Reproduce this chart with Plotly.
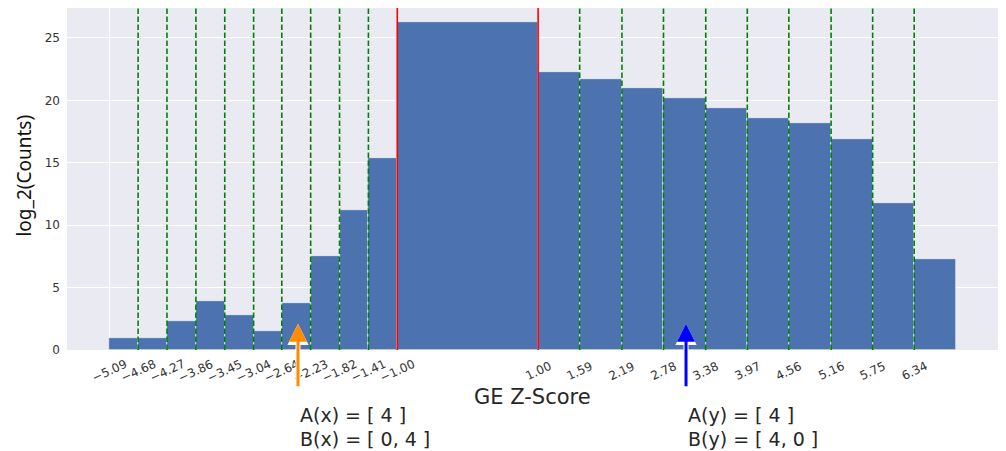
import plotly.graph_objects as go

# bin edges of the GE z-score histogram
left_edges = [-5.09, -4.68, -4.27, -3.86, -3.45, -3.04, -2.64, -2.23, -1.82, -1.41, -1.00]
right_edges = [1.00, 1.59, 2.19, 2.78, 3.38, 3.97, 4.56, 5.16, 5.75, 6.34, 6.93]
log2_counts = [1.0, 1.0, 2.3, 3.9, 2.8, 1.5, 3.8, 7.5, 11.2, 15.4,
               26.3,
               22.3, 21.7, 21.0, 20.2, 19.4, 18.6, 18.2, 16.9, 11.8, 7.3]
cutoffs = [-1.00, 1.00]
arrow_x = [-2.41, 3.10]
label_a = ['A(x) = [ 4 ]', 'A(y) = [ 4 ]']
label_b = ['B(x) = [ 0, 4 ]', 'B(y) = [ 4, 0 ]']
arrow_colors = ['#ff8c00', '#0000ff']

edges = left_edges + right_edges
centers = [(edges[i] + edges[i + 1]) / 2 for i in range(len(edges) - 1)]
widths = [edges[i + 1] - edges[i] for i in range(len(edges) - 1)]
tick_vals = edges[:-1]
tick_text = [f'{v:.2f}'.replace('-', '\u2212') for v in tick_vals]

fig = go.Figure()

fig.add_trace(go.Bar(
    x=centers,
    y=log2_counts,
    width=widths,
    marker_color='#4c72b0',
    marker_line=dict(color='white', width=0.6),
    showlegend=False
))

# dashed green boundaries, solid red cutoffs
for v in tick_vals:
    if v in cutoffs or v == edges[0]:
        continue
    fig.add_shape(type='line', x0=v, x1=v, y0=0, y1=1, xref='x', yref='paper',
                  line=dict(color='#008000', width=1.6, dash='5.5px,2.5px'), layer='above')
for v in cutoffs:
    fig.add_shape(type='line', x0=v, x1=v, y0=0, y1=1, xref='x', yref='paper',
                  line=dict(color='#ff0000', width=1.6), layer='above')

# x tick labels centred on their ticks (matplotlib style rotation)
for v, t in zip(tick_vals, tick_text):
    fig.add_annotation(x=v, y=-0.06, xref='x', yref='paper', text=t,
                       showarrow=False, textangle=-25, xanchor='center', yanchor='middle',
                       font=dict(size=12, color='#333333'))

for i in range(2):
    # white outline under the coloured arrow
    fig.add_annotation(x=arrow_x[i], y=2.1, xref='x', yref='y', ax=0, ay=64,
                       text='', showarrow=True, arrowhead=2, arrowwidth=5,
                       arrowsize=0.85, arrowcolor='white')
    fig.add_annotation(x=arrow_x[i], y=2.1, xref='x', yref='y', ax=0, ay=64,
                       text='', showarrow=True, arrowhead=2, arrowwidth=3,
                       arrowsize=1.2, arrowcolor=arrow_colors[i])
    fig.add_annotation(x=arrow_x[i], y=-0.1915, xref='x', yref='paper',
                       xanchor='left', yanchor='middle', showarrow=False,
                       text=label_a[i], font=dict(size=19, color='#262626'))
    fig.add_annotation(x=arrow_x[i], y=-0.2588, xref='x', yref='paper',
                       xanchor='left', yanchor='middle', showarrow=False,
                       text=label_b[i], font=dict(size=19, color='#262626'))

fig.add_annotation(x=0.5, y=-0.1374, xref='paper', yref='paper',
                   xanchor='center', yanchor='middle', showarrow=False,
                   text='GE Z-Score', font=dict(size=21, color='#262626'))
fig.add_annotation(x=-0.0462, y=0.51, xref='paper', yref='paper',
                   xanchor='center', yanchor='middle', showarrow=False, textangle=-90,
                   text='log_2(Counts)', font=dict(size=19, family='Noto Sans', color='#111111'))

# page body has an 8px margin, so the figure is sized to sit inside the window
fig.update_layout(
    width=990,
    height=443,
    margin=dict(l=59, r=0, t=0, b=101),
    paper_bgcolor='white',
    plot_bgcolor='#eaeaf2',
    bargap=0,
    font=dict(family='DejaVu Sans', color='#333333'),
    xaxis=dict(
        range=[-5.69, 7.53],
        tickmode='array',
        tickvals=tick_vals,
        showticklabels=False,
        showgrid=True,
        gridcolor='white',
        gridwidth=1,
        zeroline=False,
        showline=False
    ),
    yaxis=dict(
        range=[0, 27.4],
        tickvals=[0, 5, 10, 15, 20, 25],
        tickfont=dict(size=12),
        showgrid=True,
        gridcolor='white',
        gridwidth=1,
        zeroline=False,
        showline=False,
        ticklabelstandoff=6
    )
)

fig.write_html('out.html')
